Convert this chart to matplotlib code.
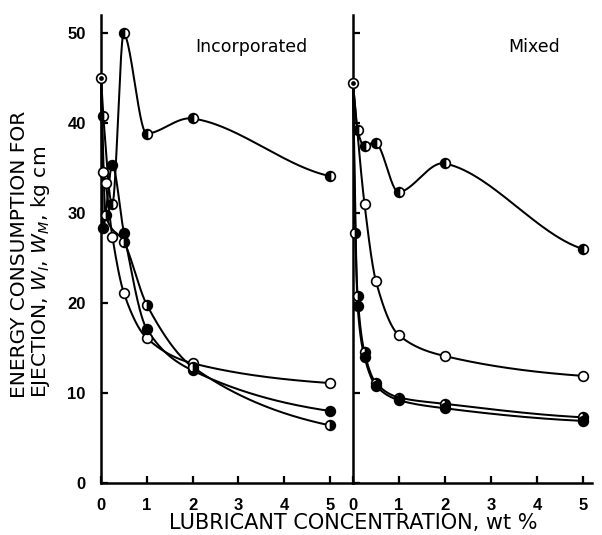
import numpy as np
import matplotlib
matplotlib.use("Agg")
import matplotlib.pyplot as plt

# Ejection energy (kg cm) versus lubricant concentration (wt %)
inc_unlubricated = 45.0
mix_unlubricated = 44.4

# Incorporated lubricant
inc_top_x = [0, 0.05, 0.25, 0.5, 1, 2, 5]
inc_top_y = [45.0, 40.8, 31.0, 50.0, 38.8, 40.5, 34.1]
inc_open_x = [0, 0.05, 0.1, 0.25, 0.5, 1, 2, 5]
inc_open_y = [45.0, 34.6, 33.3, 27.3, 21.1, 16.1, 13.3, 11.1]
inc_filled_x = [0, 0.05, 0.25, 0.5, 1, 2, 5]
inc_filled_y = [45.0, 28.3, 35.3, 27.8, 17.1, 12.5, 8.0]
inc_half_x = [0, 0.1, 0.5, 1, 2, 5]
inc_half_y = [45.0, 29.8, 26.8, 19.8, 12.9, 6.4]

# Mixed lubricant
mix_top_x = [0, 0.1, 0.25, 0.5, 1, 2, 5]
mix_top_y = [44.4, 39.2, 37.4, 37.8, 32.3, 35.5, 26.0]
mix_open_x = [0, 0.25, 0.5, 1, 2, 5]
mix_open_y = [44.4, 31.0, 22.4, 16.4, 14.1, 11.9]
mix_half_x = [0, 0.05, 0.1, 0.25, 0.5, 1, 2, 5]
mix_half_y = [44.4, 27.8, 20.8, 14.5, 11.1, 9.5, 8.8, 7.3]
mix_filled_x = [0, 0.1, 0.25, 0.5, 1, 2, 5]
mix_filled_y = [44.4, 19.7, 14.0, 10.8, 9.2, 8.3, 6.9]

x_ticks = [0, 1, 2, 3, 4, 5]
y_ticks = [0, 10, 20, 30, 40, 50]


def smooth_curve(x, y, per_seg=60):
    """Cubic Hermite curve through the points.

    Monotone stretches use the Fritsch-Carlson harmonic slope; at a turning
    point the tangent leans a little towards the longer neighbouring chord,
    and the last point eases in along half of its chord slope.
    """
    x = np.asarray(x, float)
    y = np.asarray(y, float)
    h = np.diff(x)
    d = np.diff(y) / h
    n = len(x)
    m = np.zeros(n)
    for k in range(1, n - 1):
        if d[k - 1] * d[k] > 0:
            w1 = 2 * h[k] + h[k - 1]
            w2 = h[k] + 2 * h[k - 1]
            m[k] = (w1 + w2) / (w1 / d[k - 1] + w2 / d[k])
        else:
            if h[k] >= h[k - 1]:
                m[k] = 0.5 * d[k] * (1 - h[k - 1] / h[k])
            else:
                m[k] = 0.5 * d[k - 1] * (1 - h[k] / h[k - 1])
    m[0] = d[0]
    m[-1] = 0.5 * d[-1]
    xs, ys = [], []
    for k in range(n - 1):
        t = np.linspace(0, 1, per_seg, endpoint=(k == n - 2))
        h00 = 2 * t**3 - 3 * t**2 + 1
        h10 = t**3 - 2 * t**2 + t
        h01 = -2 * t**3 + 3 * t**2
        h11 = t**3 - t**2
        xs.append(x[k] + t * h[k])
        ys.append(h00 * y[k] + h10 * h[k] * m[k] + h01 * y[k + 1] + h11 * h[k] * m[k + 1])
    return np.concatenate(xs), np.concatenate(ys)


plt.rcParams["mathtext.fontset"] = "custom"
plt.rcParams["mathtext.rm"] = "DejaVu Sans"
plt.rcParams["mathtext.it"] = "DejaVu Sans:italic"

W, H = 602, 535
fig = plt.figure(figsize=(W / 100, H / 100), dpi=100)

px_left, px_mid, px_right = 101, 353, 592
px_bottom, px_top = 483, 15
ax_l = fig.add_axes([px_left / W, 1 - px_bottom / H, (px_mid - px_left) / W, (px_bottom - px_top) / H])
ax_r = fig.add_axes([px_mid / W, 1 - px_bottom / H, (px_right - px_mid) / W, (px_bottom - px_top) / H])

MS = 7.0
LW = 1.45


def marker_style(kind):
    if kind == "open":
        return dict(marker="o", mfc="white", mec="black", fillstyle="full")
    if kind == "filled":
        return dict(marker="o", mfc="black", mec="black", fillstyle="full")
    if kind == "left":
        return dict(marker="o", mfc="black", mfcalt="white", mec="black", fillstyle="left")
    return dict(marker="o", mfc="black", mfcalt="white", mec="black", fillstyle="right")


def draw_series(ax, x, y, kind):
    cx, cy = smooth_curve(x, y)
    ax.plot(cx, cy, color="black", lw=LW, solid_capstyle="round", zorder=2, clip_on=False)
    ax.plot(x[1:], y[1:], ls="none", ms=MS, mew=1.2, zorder=4, clip_on=False, **marker_style(kind))


def draw_origin(ax, y0):
    ax.plot([0], [y0], ls="none", marker="o", ms=MS, mfc="white", mec="black", mew=1.2,
            zorder=5, clip_on=False)
    ax.plot([0], [y0], ls="none", marker="o", ms=2.4, mfc="black", mec="black",
            zorder=6, clip_on=False)


draw_series(ax_l, inc_top_x, inc_top_y, "left")
draw_series(ax_l, inc_open_x, inc_open_y, "open")
draw_series(ax_l, inc_filled_x, inc_filled_y, "filled")
draw_series(ax_l, inc_half_x, inc_half_y, "right")
draw_origin(ax_l, inc_unlubricated)

draw_series(ax_r, mix_top_x, mix_top_y, "left")
draw_series(ax_r, mix_open_x, mix_open_y, "open")
draw_series(ax_r, mix_half_x, mix_half_y, "right")
draw_series(ax_r, mix_filled_x, mix_filled_y, "filled")
draw_origin(ax_r, mix_unlubricated)

unit_l = 45.8
unit_r = 46.0
ax_l.set_xlim(0, (px_mid - px_left) / unit_l)
ax_r.set_xlim(0, (px_right - px_mid) / unit_r)

tick_font = dict(family="Liberation Sans", weight="bold", size=12)
for ax in (ax_l, ax_r):
    ax.set_ylim(0, 52)
    ax.patch.set_alpha(0)
    for s in ("top", "right"):
        ax.spines[s].set_visible(False)
    for s in ("left", "bottom"):
        ax.spines[s].set_linewidth(1.8)
    ax.set_xticks(x_ticks)
    ax.set_xticklabels([str(t) for t in x_ticks], fontdict=tick_font)
    ax.set_yticks(y_ticks)
    ax.tick_params(direction="in", length=5, width=1.6, pad=11)

ax_l.set_yticklabels([str(t) for t in y_ticks], fontdict=tick_font)
ax_r.set_yticklabels([])

ax_l.text(3.28, 48.4, "Incorporated", family="DejaVu Sans", size=12.5, ha="center", va="center")
ax_r.text(3.93, 48.4, "Mixed", family="DejaVu Sans", size=12.5, ha="center", va="center")

# Two-line vertical axis title, both lines starting at the same height
fig.text(31 / W, 1 - 398 / H,
         "ENERGY CONSUMPTION FOR\nEJECTION, $W_I$, $W_M$, kg cm",
         rotation=90, rotation_mode="anchor", family="DejaVu Sans", size=14.5,
         ha="left", va="center", multialignment="left", linespacing=1.05)
fig.text(353 / W, 1 - 523 / H, "LUBRICANT CONCENTRATION, wt %",
         family="DejaVu Sans", size=15, ha="center", va="center")

fig.savefig("out.png", dpi=100, facecolor="white")
